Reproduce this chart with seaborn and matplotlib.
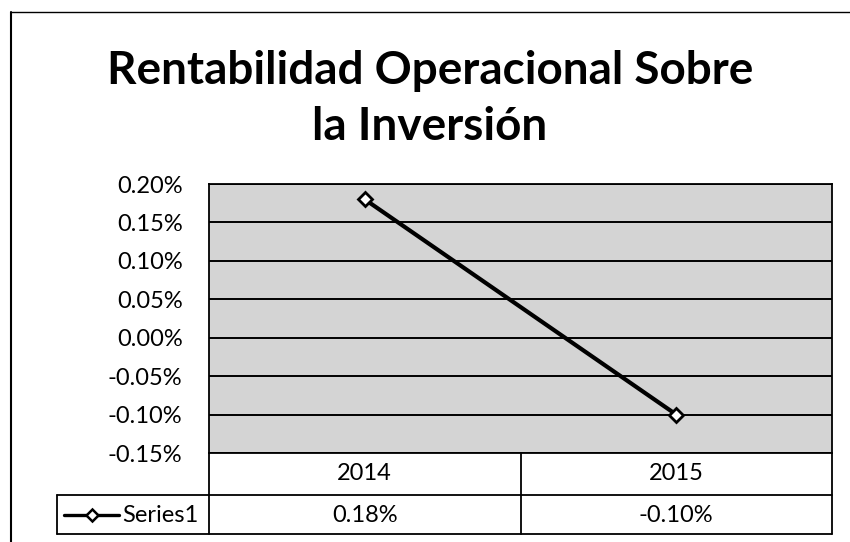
import matplotlib
matplotlib.use("Agg")
import matplotlib.pyplot as plt
import seaborn as sns
import pandas as pd
from matplotlib.lines import Line2D
from matplotlib.ticker import FuncFormatter

# ---- data ----
years = ["2014", "2015"]
values = [0.18, -0.10]          # percent
value_labels = ["0.18%", "-0.10%"]
series_name = "Series1"
title = "Rentabilidad Operacional Sobre\nla Inversión"
yticks = [-0.15, -0.10, -0.05, 0.00, 0.05, 0.10, 0.15, 0.20]

df = pd.DataFrame({"year": years, "value": values})

sns.set_style("white")
plt.rcParams["font.family"] = ["Lato", "DejaVu Sans"]

W, H = 850, 542
fig = plt.figure(figsize=(W / 100, H / 100), dpi=100)

def fx(px):
    return px / W

def fy(py):
    return 1 - py / H

# plot area
L, R, T, B = 209, 832, 184, 453
ax = fig.add_axes([fx(L), fy(B), fx(R) - fx(L), fy(T) - fy(B)])
ax.set_facecolor("#d4d4d4")

sns.lineplot(data=df, x="year", y="value", ax=ax, color="black", linewidth=3.0,
             marker="D", markersize=7.5, markerfacecolor="white",
             markeredgecolor="black", markeredgewidth=2.0, zorder=5)

ax.set_xlim(-0.5, 1.5)
ax.set_ylim(-0.15, 0.20)
ax.set_yticks(yticks)
ax.yaxis.set_major_formatter(FuncFormatter(lambda v, p: f"{v:.2f}%"))
ax.set_xticks([])
ax.set_xlabel("")
ax.set_ylabel("")
for y in yticks:
    ax.axhline(y, color="black", linewidth=1.4, zorder=1)
for s in ax.spines.values():
    s.set_color("black")
    s.set_linewidth(1.3)
ax.tick_params(axis="y", length=0, pad=19, labelsize=17, labelcolor="black")

# title
fig.text(fx(430), fy(99), title, ha="center", va="center", fontsize=33,
         fontweight="bold", linespacing=1.42, color="black")

# data table
lc = "black"
lw = 1.3
def hline(y, x0, x1):
    fig.add_artist(Line2D([fx(x0), fx(x1)], [fy(y), fy(y)], color=lc, lw=lw))
def vline(x, y0, y1):
    fig.add_artist(Line2D([fx(x), fx(x)], [fy(y0), fy(y1)], color=lc, lw=lw))

mid = (L + R) / 2
hline(495, 57, R)
hline(534, 57, R)
vline(L, B, 534)
vline(mid, B, 534)
vline(R, B, 534)
vline(57, 495, 534)

cols = [(L + mid) / 2, (mid + R) / 2]
for cx, yr, lab in zip(cols, years, value_labels):
    fig.text(fx(cx), fy(474), yr, ha="center", va="center", fontsize=17, color="black")
    fig.text(fx(cx), fy(515), lab, ha="center", va="center", fontsize=17, color="black")

# legend key in table
fig.add_artist(Line2D([fx(64), fx(119)], [fy(515), fy(515)], color="black", lw=2.4))
fig.add_artist(Line2D([fx(92)], [fy(515)], marker="D", markersize=6.5,
                      markerfacecolor="white", markeredgecolor="black",
                      markeredgewidth=1.8, color="black"))
fig.text(fx(122), fy(515), series_name, ha="left", va="center", fontsize=17, color="black")

# outer chart border (left and top)
fig.add_artist(Line2D([fx(11), fx(11)], [fy(12), fy(542)], color="black", lw=1.5))
fig.add_artist(Line2D([fx(11), fx(850)], [fy(12), fy(12)], color="black", lw=1.0))

fig.savefig("out.png", dpi=100)
